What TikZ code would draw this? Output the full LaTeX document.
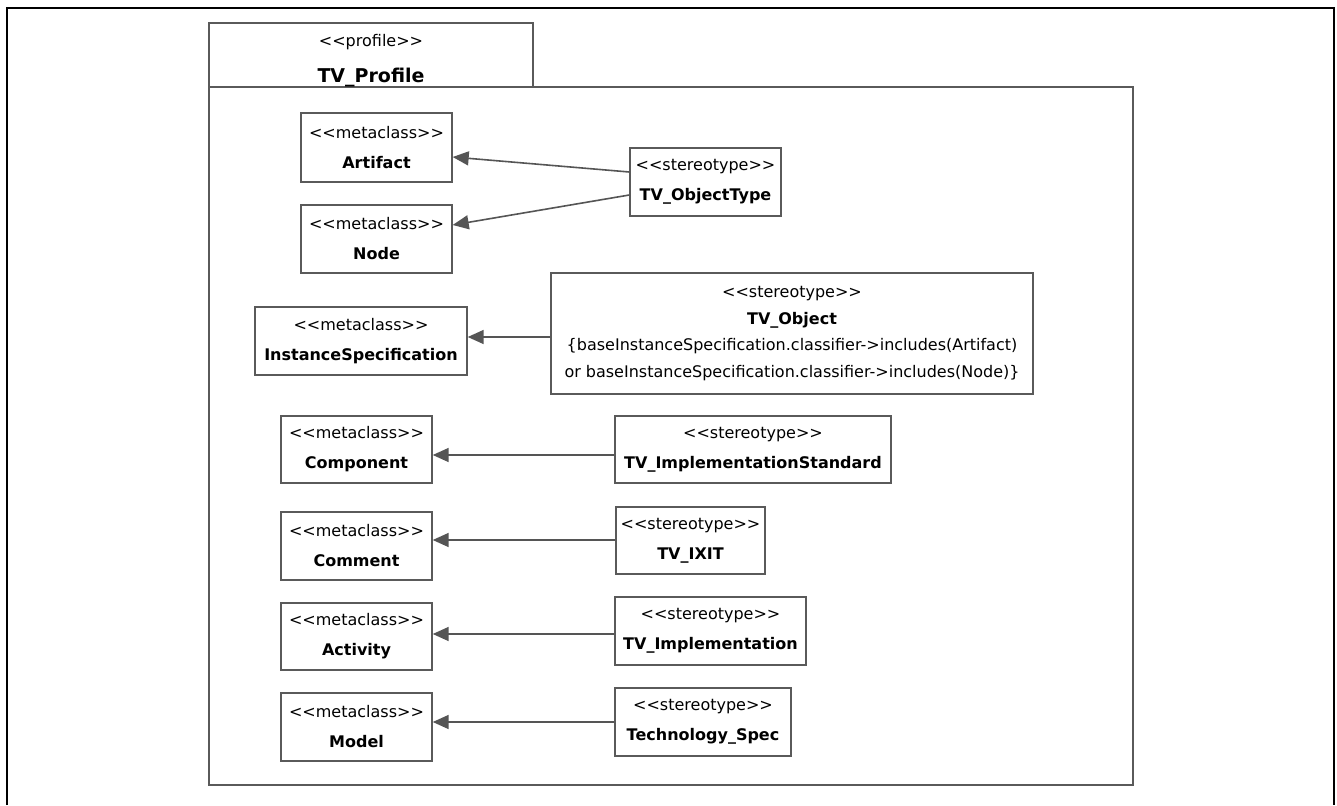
\documentclass[tikz,border=0pt]{standalone}
\usepackage{fontspec}
\setmainfont{DejaVu Sans}[Ligatures=TeXOff]
\usetikzlibrary{arrows.meta}
\definecolor{edgegray}{HTML}{5A5A5A}
\definecolor{linkgray}{HTML}{555555}

\tikzset{
  umlbox/.style={draw=edgegray, line width=1.4pt, fill=white, inner sep=0pt,
    align=center, font=\fontsize{16}{30}\selectfont},
  pkgpart/.style={draw=edgegray, line width=1.4pt, inner sep=0pt},
  pkgtext/.style={inner sep=0pt, anchor=center},
  ext/.style={draw=linkgray, line width=1.6pt,
    -{Triangle[length=16pt,width=14pt]}},
  outer/.style={draw=black, line width=2.5pt}
}

\begin{document}
\begin{tikzpicture}[x=1pt,y=-1pt]
\useasboundingbox (0,0) rectangle (1337,805);
\fill[white] (0,0) rectangle (1337,805);

% page frame
\draw[outer] (7,805) -- (7,8) -- (1334,8) -- (1334,805);

% profile package: tab and body
\node[pkgpart, minimum width=924pt, minimum height=698pt] (body) at (671,436) {};
\node[pkgpart, minimum width=324pt, minimum height=64pt] (tab) at (371,55) {};
\node[pkgtext, font=\fontsize{16}{19}\selectfont] (tabkind) at ([yshift=-20pt]tab.north)
  {<<profile>>};
\node[pkgtext, font=\fontsize{19}{23}\selectfont\bfseries] (tabname) at ([yshift=-55pt]tab.north)
  {TV\_Profile};

% metaclasses
\node[umlbox, minimum width=151pt, minimum height=69pt] (artifact) at (376.5,147.5)
  {<<metaclass>>\\\textbf{Artifact}};
\node[umlbox, minimum width=151pt, minimum height=68pt] (nodecls) at (376.5,239)
  {<<metaclass>>\\\textbf{Node}};
\node[umlbox, minimum width=212pt, minimum height=68pt] (instspec) at (361,341)
  {<<metaclass>>\\\textbf{InstanceSpecification}};
\node[umlbox, minimum width=151pt, minimum height=67pt] (component) at (356.5,449.5)
  {<<metaclass>>\\\textbf{Component}};
\node[umlbox, minimum width=151pt, minimum height=68pt] (comment) at (356.5,546)
  {<<metaclass>>\\\textbf{Comment}};
\node[umlbox, minimum width=151pt, minimum height=67pt] (activity) at (356.5,636.5)
  {<<metaclass>>\\\textbf{Activity}};
\node[umlbox, minimum width=151pt, minimum height=68pt] (model) at (356.5,727)
  {<<metaclass>>\\\textbf{Model}};

% stereotypes
\node[umlbox, minimum width=151pt, minimum height=68pt] (objtype) at (705.5,182)
  {<<stereotype>>\\\textbf{TV\_ObjectType}};
\node[umlbox, minimum width=482pt, minimum height=121pt,
      font=\fontsize{16}{26.5}\selectfont] (tvobject) at (792,333.5)
  {<<stereotype>>\\\textbf{TV\_Object}\\
   \{baseInstanceSpecification.classifier->includes(Artifact)\\
   or baseInstanceSpecification.classifier->includes(Node)\}};
\node[umlbox, minimum width=276pt, minimum height=67pt] (implstd) at (753,449.5)
  {<<stereotype>>\\\textbf{TV\_ImplementationStandard}};
\node[umlbox, minimum width=149pt, minimum height=67pt] (ixit) at (690.5,540.5)
  {<<stereotype>>\\\textbf{TV\_IXIT}};
\node[umlbox, minimum width=191pt, minimum height=68pt] (impl) at (710.5,631)
  {<<stereotype>>\\\textbf{TV\_Implementation}};
\node[umlbox, minimum width=176pt, minimum height=68pt] (techspec) at (703,722)
  {<<stereotype>>\\\textbf{Technology\_Spec}};

% extensions
\draw[ext] ([yshift=10pt]objtype.west) -- ([yshift=-9.5pt]artifact.east);
\draw[ext] ([yshift=-13pt]objtype.west) -- ([yshift=14pt]nodecls.east);

\coordinate (e1) at ([yshift=-3.5pt]tvobject.west);
\draw[ext] (e1) -- (e1 -| instspec.east);
\coordinate (e2) at ([yshift=-5.5pt]implstd.west);
\draw[ext] (e2) -- (e2 -| component.east);
\coordinate (e3) at ([yshift=0.5pt]ixit.west);
\draw[ext] (e3) -- (e3 -| comment.east);
\coordinate (e4) at ([yshift=-3pt]impl.west);
\draw[ext] (e4) -- (e4 -| activity.east);
\coordinate (e5) at (techspec.west);
\draw[ext] (e5) -- (e5 -| model.east);
\end{tikzpicture}
\end{document}
